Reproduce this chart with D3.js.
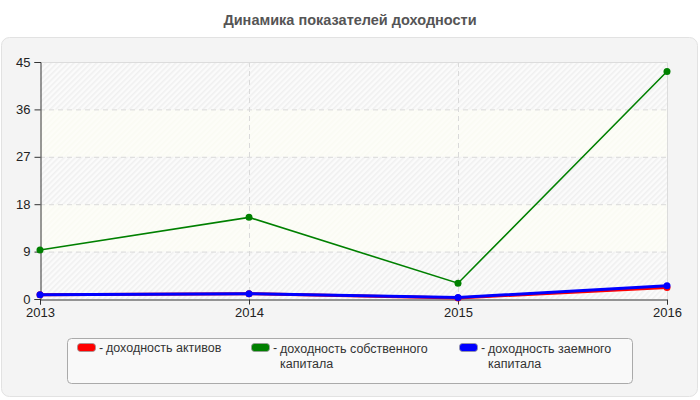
<!DOCTYPE html>
<html>
<head>
<meta charset="utf-8">
<script src="https://cdn.jsdelivr.net/npm/d3@7/dist/d3.min.js"></script>
<style>
  body { margin: 0; background: #fff; font-family: "Liberation Sans", Arial, sans-serif; }
  svg { display: block; }
</style>
</head>
<body>
<svg id="chart" width="700" height="400"></svg>
<script>
// данные графика
const years = ["2013", "2014", "2015", "2016"];
const yTicks = [0, 9, 18, 27, 36, 45];
const assetsReturn = [0.8, 1.0, 0.2, 2.2];
const equityReturn = [9.3, 15.5, 3.0, 43.2];
const debtReturn = [0.8, 1.0, 0.3, 2.5];
const seriesColors = ["#ff0000", "#008000", "#0000ff"];

const svg = d3.select("#chart");
const plot = { left: 40, right: 667, top: 62, bottom: 299 };

// заголовок
svg.append("text")
  .attr("x", 350).attr("y", 25)
  .attr("text-anchor", "middle")
  .attr("font-size", 14.5).attr("font-weight", "bold")
  .attr("fill", "#555")
  .text("Динамика показателей доходности");

// панель
svg.append("rect")
  .attr("x", 1.5).attr("y", 37.5).attr("width", 696).attr("height", 359)
  .attr("rx", 8)
  .attr("fill", "#f4f4f4").attr("stroke", "#e2e2e2");

// штриховка
const defs = svg.append("defs");
const makeHatch = (id, bg, fg) => {
  const p = defs.append("pattern")
    .attr("id", id).attr("patternUnits", "userSpaceOnUse")
    .attr("width", 4).attr("height", 4)
    .attr("patternTransform", "rotate(45)");
  p.append("rect").attr("width", 4).attr("height", 4).attr("fill", bg);
  p.append("rect").attr("width", 1.6).attr("height", 4).attr("fill", fg);
};
makeHatch("hatch", "#fbfbfb", "#f0f0f0");
makeHatch("hatchY", "#fdfdf8", "#fafbf3");

const x = d3.scalePoint().domain(years).range([plot.left, plot.right]);
const y = d3.scaleLinear().domain([0, 45]).range([plot.bottom, plot.top]);

// полосы фона
d3.pairs(yTicks).forEach(([a, b], i) => {
  svg.append("rect")
    .attr("x", plot.left).attr("y", y(b))
    .attr("width", plot.right - plot.left).attr("height", y(a) - y(b))
    .attr("fill", i % 2 === 0 ? "url(#hatch)" : "url(#hatchY)");
});

// сетка
svg.append("g").selectAll("line")
  .data(yTicks.slice(1, -1)).join("line")
  .attr("x1", plot.left).attr("x2", plot.right)
  .attr("y1", d => y(d) + 0.5).attr("y2", d => y(d) + 0.5)
  .attr("stroke", "#dadada").attr("stroke-dasharray", "5,4");
svg.append("g").selectAll("line")
  .data(years.slice(1, -1)).join("line")
  .attr("x1", d => x(d) + 0.5).attr("x2", d => x(d) + 0.5)
  .attr("y1", plot.top).attr("y2", plot.bottom)
  .attr("stroke", "#dadada").attr("stroke-dasharray", "5,4");

// рамка сверху и справа
svg.append("path")
  .attr("d", `M${plot.left},${plot.top + 0.5}H${plot.right + 0.5}V${plot.bottom}`)
  .attr("fill", "none").attr("stroke", "#dcdcdc");

// оси
const yAxis = svg.append("g")
  .attr("transform", `translate(${plot.left + 0.5},0)`)
  .call(d3.axisLeft(y).tickValues(yTicks).tickSize(6).tickPadding(4));
const xAxis = svg.append("g")
  .attr("transform", `translate(0,${plot.bottom + 0.5})`)
  .call(d3.axisBottom(x).tickSize(5).tickPadding(3));
[yAxis, xAxis].forEach(g => {
  g.select(".domain").attr("stroke", "#333");
  g.selectAll(".tick line").attr("stroke", "#333");
  g.selectAll("text").attr("font-size", 13).attr("fill", "#222")
    .attr("font-family", "'Liberation Sans', Arial, sans-serif");
});

// линии
const series = [
  { values: assetsReturn, color: seriesColors[0], width: 3 },
  { values: equityReturn, color: seriesColors[1], width: 1.6 },
  { values: debtReturn, color: seriesColors[2], width: 3 }
];
const line = d3.line().x((d, i) => x(years[i])).y(d => y(d));
series.forEach(s => {
  svg.append("path")
    .datum(s.values)
    .attr("d", line)
    .attr("fill", "none")
    .attr("stroke", s.color)
    .attr("stroke-width", s.width);
  svg.append("g").selectAll("circle")
    .data(s.values).join("circle")
    .attr("cx", (d, i) => x(years[i]))
    .attr("cy", d => y(d))
    .attr("r", 3.5)
    .attr("fill", s.color);
});

// легенда
svg.append("rect")
  .attr("x", 67.5).attr("y", 338.5).attr("width", 565).attr("height", 45)
  .attr("rx", 4)
  .attr("fill", "#f9f9f9").attr("stroke", "#aaa");

const legendItems = [
  { x: 77, lines: ["доходность активов"] },
  { x: 251, lines: ["доходность собственного", "капитала"] },
  { x: 459, lines: ["доходность заемного", "капитала"] }
];
legendItems.forEach((item, i) => {
  svg.append("rect")
    .attr("x", item.x + 0.5).attr("y", 343.5).attr("width", 18).attr("height", 8)
    .attr("rx", 3)
    .attr("fill", seriesColors[i]).attr("stroke", "#999").attr("stroke-width", 0.8);
  svg.append("text")
    .attr("x", item.x + 22).attr("y", 352)
    .attr("font-size", 12.5).attr("fill", "#333")
    .text("-");
  item.lines.forEach((l, j) => {
    svg.append("text")
      .attr("x", item.x + 29)
      .attr("y", j === 0 ? (i === 0 ? 352 : 353) : 368)
      .attr("font-size", 12.5).attr("fill", "#333")
      .text(l);
  });
});
</script>
</body>
</html>
